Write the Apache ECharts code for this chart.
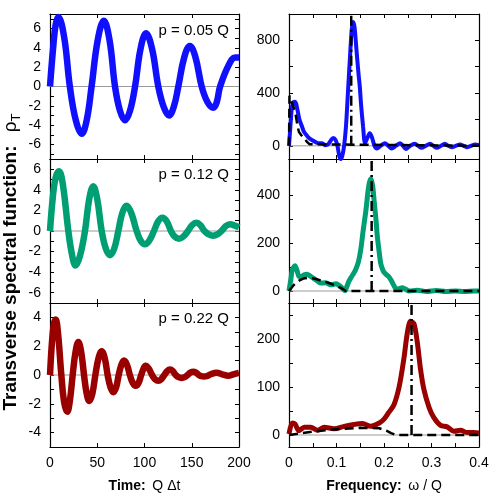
<!DOCTYPE html>
<html><head><meta charset="utf-8">
<script src="https://cdn.jsdelivr.net/npm/echarts@6/dist/echarts.min.js"></script>
<style>html,body{margin:0;padding:0;background:#fff}#c{width:498px;height:498px}</style>
</head><body><div id="c"></div>
<script>
// ---------- labels ----------
const panelLabels = ['p = 0.05 Q', 'p = 0.12 Q', 'p = 0.22 Q'];
const seriesColors = ['#1010ff', '#009e73', '#990000'];

// ---------- time-domain correlators [Q Δt, value] ----------
const timeP05 = [[0,0],[3.5,4.2],[6,6.4],[8.8,7.2],[15,5.1],[21,0],[27.3,-3.5],[33.5,-4.9],[38.8,-3.5],[44,0],[50.5,4.8],[57,6.8],[63,4.8],[68.8,0],[74,-2.5],[79.4,-3.5],[84.7,-2.5],[90,0],[95.8,3.9],[101.6,5.5],[108,3.9],[114.6,0],[120.3,-2.1],[126,-3.0],[131,-2.1],[135.8,0],[142,3.0],[148,4.2],[154,3.0],[160.5,0],[166.6,-1.6],[172.8,-2.2],[176.5,-1.6],[180,0],[189,2.2],[196,3.0],[200,3.0]];
const timeP12 = [[0,0],[3,3.3],[6,5.2],[9.5,5.8],[13.5,4.6],[19.4,0],[23.5,-2.4],[27,-3.35],[31.5,-2.5],[37,0],[41.5,3.1],[45.8,4.35],[50,3.1],[54.7,0],[59,-1.7],[63.5,-2.35],[68,-1.7],[72.3,0],[76.5,1.75],[81,2.45],[86,1.75],[91.7,0],[96,-0.95],[100.5,-1.3],[105,-0.95],[110,0],[114.5,0.95],[118.8,1.3],[123.5,0.95],[128,0],[132,-0.55],[136.5,-0.75],[141,-0.55],[146,0],[150.5,0.58],[155,0.8],[159,0.58],[163.5,0],[168,-0.33],[172.8,-0.45],[177,-0.33],[181.5,0],[186,0.47],[190.5,0.65],[195,0.55],[200,0.35]];
const timeP22 = [[0,0],[2,2.2],[4,3.5],[6,3.85],[8.5,2.9],[12,0],[15,-1.9],[18.3,-2.55],[21,-1.8],[24,0],[27,1.6],[30,2.3],[33,1.6],[36,0],[38.8,-1.3],[41.6,-1.8],[44.8,-1.3],[48,0],[51.3,1.15],[54.7,1.65],[58,1.15],[61,0],[64,-0.85],[67,-1.2],[70,-0.85],[72.7,0],[75.5,0.7],[78.3,1.0],[81.5,0.7],[84.5,0],[87.6,-0.55],[90.7,-0.75],[93.7,-0.55],[96.5,0],[99,0.45],[101.2,0.65],[104.5,0.45],[108,0],[111.3,-0.3],[114.6,-0.4],[117.6,-0.3],[121,0],[124,0.27],[127,0.38],[130,0.27],[133,0],[136,-0.15],[139.3,-0.2],[142.5,-0.15],[145.5,0],[148.5,0.16],[151.6,0.22],[154.5,0.16],[157.5,0],[160,-0.08],[163,-0.1],[166,-0.08],[170,0.05],[176.4,0.15],[182,0.05],[188.7,-0.05],[194,0.05],[200,0.15]];

// ---------- spectral functions [ω/Q, value] ----------
const specP05 = [[0,0],[0.003,150],[0.006,290],[0.009,330],[0.012,335],[0.015,320],[0.018,270],[0.022,200],[0.027,150],[0.031,110],[0.036,85],[0.042,60],[0.05,40],[0.058,25],[0.064,20],[0.07,20],[0.076,5],[0.082,10],[0.088,40],[0.093,60],[0.098,45],[0.102,0],[0.106,-80],[0.109,-100],[0.112,-80],[0.116,0],[0.12,150],[0.124,400],[0.128,650],[0.132,880],[0.135,940],[0.138,900],[0.142,730],[0.146,560],[0.149,450],[0.152,300],[0.156,145],[0.16,20],[0.165,60],[0.17,95],[0.175,60],[0.18,0],[0.185,-20],[0.193,0],[0.202,20],[0.209,0],[0.216,-20],[0.225,0],[0.234,20],[0.24,0],[0.246,-25],[0.255,0],[0.265,15],[0.272,0],[0.279,-15],[0.288,0],[0.297,15],[0.304,0],[0.311,-15],[0.32,0],[0.328,15],[0.335,0],[0.3425,-10],[0.351,0],[0.36,10],[0.367,0],[0.374,-10],[0.383,0],[0.392,10],[0.4,5]];
const specP12 = [[0,0],[0.004,50],[0.007,88],[0.0126,105],[0.017,85],[0.021,61],[0.026,60],[0.032,68],[0.038,70],[0.044,63],[0.05,55],[0.056,47],[0.062,38],[0.067,33],[0.077,34],[0.083,30],[0.088,26],[0.094,28],[0.099,30],[0.104,25],[0.109,18],[0.114,8],[0.118,2],[0.122,20],[0.126,40],[0.13,54],[0.135,70],[0.14,88],[0.146,120],[0.151,171],[0.156,250],[0.162,337],[0.166,410],[0.169,450],[0.1725,468],[0.176,440],[0.179,380],[0.183,300],[0.186,227],[0.19,160],[0.193,116],[0.197,90],[0.2,78],[0.205,68],[0.21,60],[0.215,45],[0.221,22],[0.226,8],[0.232,10],[0.238,14],[0.245,8],[0.253,0],[0.27,3],[0.29,-2],[0.31,2],[0.33,-2],[0.35,0],[0.37,-2],[0.39,0],[0.4,0]];
const specP22 = [[0,2],[0.007,25],[0.0126,23],[0.021,9],[0.032,16],[0.046,16],[0.06,10],[0.074,16],[0.095,13],[0.116,18],[0.137,22],[0.155,24],[0.172,18],[0.19,25],[0.2,33],[0.21,47],[0.221,63],[0.232,101],[0.242,160],[0.249,212],[0.256,237],[0.263,232],[0.27,194],[0.277,136],[0.284,95],[0.295,57],[0.305,36],[0.319,20],[0.333,17],[0.347,8],[0.361,10],[0.375,5],[0.389,5],[0.4,4]];

// ---------- continuum (dashed) and quasi-particle pole positions ----------
const contP05 = [[0,0],[0.001,380],[0.004,370],[0.009,300],[0.014,235],[0.018,150],[0.021,105],[0.026,80],[0.032,55],[0.038,30],[0.043,12],[0.047,0],[0.4,0]];
const contP12 = [[0,0],[0.01,25],[0.02,42],[0.03,52],[0.04,55],[0.05,53],[0.06,48],[0.07,42],[0.08,36],[0.09,29],[0.1,21],[0.11,12],[0.12,0],[0.4,0]];
const contP22 = [[0,0],[0.05,7],[0.1,12],[0.15,15],[0.19,14],[0.205,9],[0.215,4],[0.225,0],[0.4,0]];
const polePos = [0.131, 0.174, 0.258];

// ---------- axes ----------
const timeRange = [0, 200];
const timeTicks = [0, 50, 100, 150, 200];
const freqRange = [0, 0.4];
const freqTicks = [0, 0.05, 0.1, 0.15, 0.2, 0.25, 0.3, 0.35, 0.4];
const freqLabels = [0, 0.1, 0.2, 0.3, 0.4];
const leftYRange = [[-7.5, 7.5], [-7, 7], [-5, 5]];
const leftYTicks = [[-7,-6,-5,-4,-3,-2,-1,0,1,2,3,4,5,6,7], [-7,-6,-5,-4,-3,-2,-1,0,1,2,3,4,5,6,7], [-5,-4,-3,-2,-1,0,1,2,3,4,5]];
const leftYLabels = [[-6,-4,-2,0,2,4,6], [-6,-4,-2,0,2,4,6], [-4,-2,0,2,4]];
const rightYRange = [[-100, 1000], [-50, 550], [-25, 275]];
const rightYTicks = [[0,200,400,600,800,1000], [0,100,200,300,400,500], [0,50,100,150,200,250]];
const rightYLabels = [[0,400,800], [0,200,400], [0,100,200]];

const timeData = [timeP05, timeP12, timeP22];
const specData = [specP05, specP12, specP22];
const contData = [contP05, contP12, contP22];

const FONT = '"Liberation Sans", Arial, sans-serif';
const gridLeft = [50, 289], gridWidth = [189, 190];
const rowTop = [14, 159, 303], rowH = [145, 144, 144];

const grids = [], xAxes = [], yAxes = [], series = [];

function axisBase(pos, range, ticks, labels, gi, showLabels) {
  return {
    type: 'value', gridIndex: gi, position: pos, min: range[0], max: range[1],
    axisLine: {show: true, onZero: false, lineStyle: {color: '#000', width: 1.2}},
    axisTick: {show: true, inside: true, length: 4, customValues: ticks, lineStyle: {color: '#000', width: 1}},
    axisLabel: {show: showLabels, customValues: labels, color: '#000', fontSize: 14, fontFamily: FONT, margin: 9},
    splitLine: {show: false}
  };
}

for (let r = 0; r < 3; r++) {
  for (let c = 0; c < 2; c++) {
    const gi = r * 2 + c;
    grids.push({left: gridLeft[c], top: rowTop[r], width: gridWidth[c], height: rowH[r], containLabel: false});
    const xr = c === 0 ? timeRange : freqRange;
    const xt = c === 0 ? timeTicks : freqTicks;
    const xl = c === 0 ? timeTicks : freqLabels;
    const yr = c === 0 ? leftYRange[r] : rightYRange[r];
    const yt = c === 0 ? leftYTicks[r] : rightYTicks[r];
    const yl = c === 0 ? leftYLabels[r] : rightYLabels[r];
    xAxes.push(axisBase('bottom', xr, xt, xl, gi, r === 2));
    xAxes.push(axisBase('top', xr, xt, xl, gi, false));
    yAxes.push(axisBase('left', yr, yt, yl, gi, true));
    yAxes.push(axisBase('right', yr, yt, yl, gi, false));
    const xi = gi * 2, yi = gi * 2;
    // zero reference line
    series.push({type: 'line', xAxisIndex: xi, yAxisIndex: yi, data: [[xr[0], 0], [xr[1], 0]],
      symbol: 'none', lineStyle: {color: '#9a9a9a', width: 1}, z: 1, silent: true});
    if (c === 0) {
      series.push({type: 'line', xAxisIndex: xi, yAxisIndex: yi, data: timeData[r], smooth: 0.4,
        symbol: 'none', lineStyle: {color: seriesColors[r], width: 6.5}, z: 2});
    } else {
      series.push({type: 'line', xAxisIndex: xi, yAxisIndex: yi, data: specData[r], smooth: 0.3,
        symbol: 'none', lineStyle: {color: seriesColors[r], width: r === 0 ? 4 : 5}, z: 2});
      series.push({type: 'line', xAxisIndex: xi, yAxisIndex: yi, data: contData[r],
        symbol: 'none', lineStyle: {color: '#000', width: 2.5, type: [9, 5]}, z: 3});
      series.push({type: 'line', xAxisIndex: xi, yAxisIndex: yi, data: [[polePos[r], 0], [polePos[r], yr[1]]],
        symbol: 'none', lineStyle: {color: '#000', width: 2.5, type: [10, 4, 2, 4]}, z: 3});
    }
  }
}

const graphics = [];
const labelY = [30.7, 175, 319.3];
for (let r = 0; r < 3; r++) {
  graphics.push({type: 'text', x: 229, y: labelY[r], z: 10,
    style: {text: panelLabels[r], align: 'right', verticalAlign: 'middle', fill: '#000', fontSize: 15, fontFamily: FONT}});
}
const rich = {
  b: {fontWeight: 'bold', fontSize: 14, fontFamily: FONT, lineHeight: 18, fill: '#000'},
  n: {fontSize: 14, fontFamily: FONT, lineHeight: 18, fill: '#000'},
  yb: {fontWeight: 'bold', fontSize: 19, fontFamily: FONT, lineHeight: 23, fill: '#000'},
  yn: {fontSize: 19, fontFamily: FONT, lineHeight: 23, fill: '#000'},
  ys: {fontSize: 13, fontFamily: FONT, lineHeight: 13, verticalAlign: 'bottom', fill: '#000'}
};
graphics.push({type: 'text', x: 144.5, y: 486, style: {text: '{b|Time:}  {n|Q Δt}', rich: rich, align: 'center', verticalAlign: 'middle'}});
graphics.push({type: 'text', x: 384, y: 486, style: {text: '{b|Frequency:}  {n|ω / Q}', rich: rich, align: 'center', verticalAlign: 'middle'}});
graphics.push({type: 'text', x: 11, y: 262, rotation: Math.PI / 2,
  style: {text: '{yb|Transverse spectral function:}    {yn|ρ}{ys|T}', rich: rich, align: 'center', verticalAlign: 'middle'}});

const chart = echarts.init(document.getElementById('c'), null, {renderer: 'canvas'});
chart.setOption({
  animation: false,
  backgroundColor: '#fff',
  grid: grids, xAxis: xAxes, yAxis: yAxes, series: series, graphic: graphics
});
</script></body></html>
